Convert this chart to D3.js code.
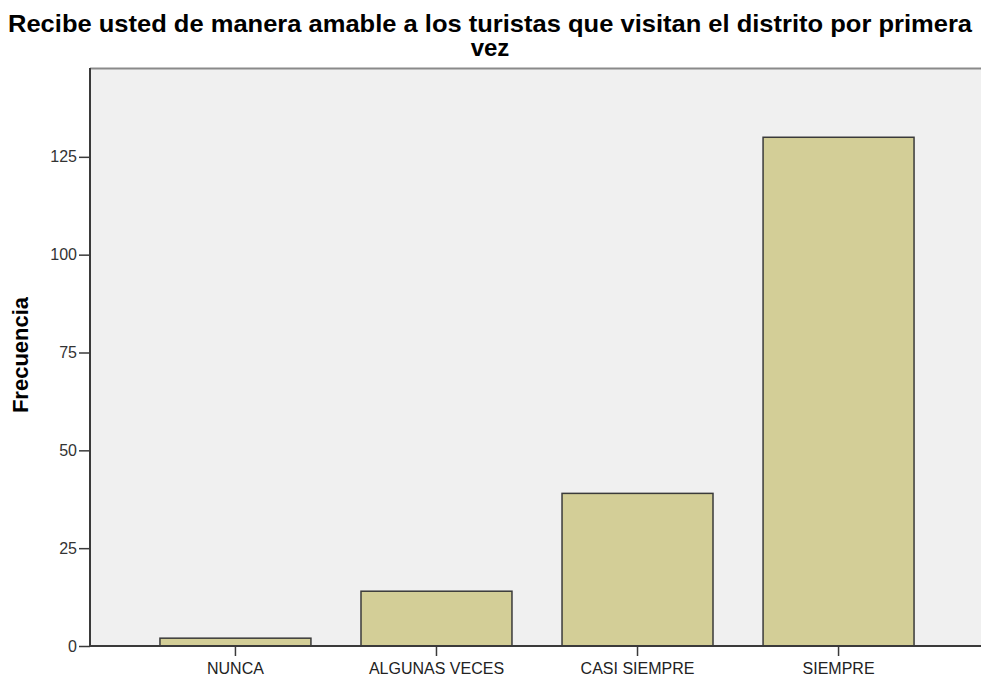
<!DOCTYPE html>
<html><head><meta charset="utf-8">
<script src="https://cdn.jsdelivr.net/npm/d3@7"></script>
<style>body{margin:0;background:#fff;} svg{display:block;font-family:"Liberation Sans",Arial,sans-serif;}</style>
</head><body>
<svg id="c" width="981" height="679"></svg>
<script>
const categories = ["NUNCA", "ALGUNAS VECES", "CASI SIEMPRE", "SIEMPRE"];
const frecuencia = [2, 14, 39, 130];
const yTicks = [0, 25, 50, 75, 100, 125];
const titleLines = ["Recibe usted de manera amable a los turistas que visitan el distrito por primera", "vez"];
const yLabel = "Frecuencia";

const svg = d3.select("#c");
const pL = 90, pR = 984, pT = 68, pB = 646;
const x = d3.scaleBand().domain(categories).range([pL, pR]).paddingInner(0.249).paddingOuter(0.348);
const y = d3.scaleLinear().domain([0, 147.7]).range([pB, pT]);

svg.append("rect").attr("x", pL).attr("y", pT).attr("width", pR - pL).attr("height", pB - pT).attr("fill", "#f0f0f0");
svg.append("line").attr("x1", pL).attr("x2", pR).attr("y1", pT + 0.5).attr("y2", pT + 0.5).attr("stroke", "#8a8a8a").attr("stroke-width", 2);

svg.selectAll("rect.bar").data(categories).enter().append("rect").attr("class", "bar")
  .attr("x", d => x(d)).attr("width", x.bandwidth())
  .attr("y", (d, i) => y(frecuencia[i])).attr("height", (d, i) => y(0) - y(frecuencia[i]))
  .attr("fill", "#d3ce97").attr("stroke", "#3a3a3a").attr("stroke-width", 1.5);

const yAxis = svg.append("g").attr("transform", `translate(${pL},0)`)
  .call(d3.axisLeft(y).tickValues(yTicks).tickSize(11).tickPadding(2).tickFormat(d3.format("d")));
yAxis.select(".domain").attr("stroke", "#3a3a3a").attr("stroke-width", 2).attr("d", `M0,${pT}V${pB}`);
yAxis.selectAll(".tick line").attr("stroke", "#3a3a3a").attr("stroke-width", 1.5);
yAxis.selectAll(".tick text").attr("font-size", 16).attr("fill", "#333").attr("font-family", "Liberation Sans, Arial, sans-serif");

const xAxis = svg.append("g").attr("transform", `translate(0,${pB})`)
  .call(d3.axisBottom(x).tickSize(10).tickPadding(7));
xAxis.select(".domain").attr("stroke", "#3a3a3a").attr("stroke-width", 2).attr("d", `M${pL},0H${pR}`);
xAxis.selectAll(".tick line").attr("stroke", "#3a3a3a").attr("stroke-width", 1.5);
xAxis.selectAll(".tick text").attr("font-size", 16).attr("fill", "#222").attr("font-family", "Liberation Sans, Arial, sans-serif");

svg.selectAll("text.title").data(titleLines).enter().append("text").attr("class", "title")
  .attr("x", 490).attr("y", (d, i) => 31.5 + i * 24.5).attr("text-anchor", "middle")
  .attr("font-size", 24).attr("font-weight", "bold").attr("fill", "#000")
  .attr("textLength", (d, i) => i === 0 ? 964 : null).attr("lengthAdjust", "spacingAndGlyphs")
  .text(d => d);

svg.append("text").attr("transform", "translate(28,355) rotate(-90)").attr("text-anchor", "middle")
  .attr("font-size", 22).attr("font-weight", "bold").attr("fill", "#000").text(yLabel);
</script>
</body></html>
